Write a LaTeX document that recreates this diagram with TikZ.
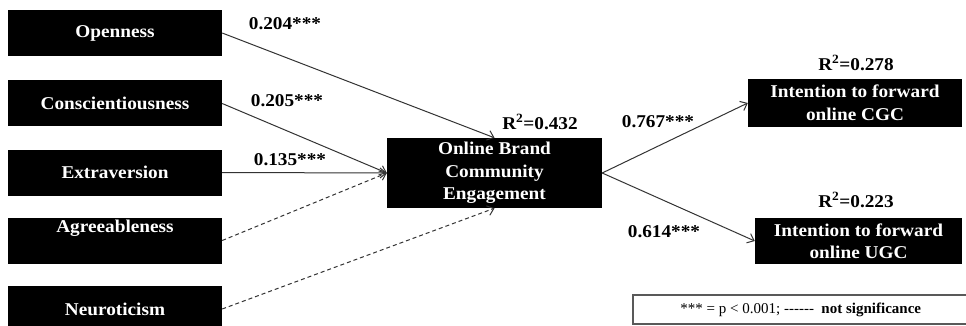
\documentclass[tikz,border=0pt]{standalone}
\usepackage{fontspec}
\setmainfont{Liberation Serif}[FakeStretch=1.07]
\newfontfamily\legendfont{Liberation Serif}
\usetikzlibrary{arrows.meta}

\begin{document}
\begin{tikzpicture}[x=1pt,y=-1pt,every text node part/.style={align=center},
  trait/.style={fill=black,text=white,minimum width=214pt,minimum height=46pt,
    font=\fontsize{18}{22.5}\selectfont\bfseries},
  coef/.style={font=\fontsize{18}{20}\selectfont\bfseries},
  link/.style={draw=black!80,line width=1pt,-{Straight Barb[length=6pt,width=10pt]}},
  nslink/.style={link,dash pattern=on 4pt off 3pt}]
\tikzstyle{every node}+=[inner sep=0pt]
\clip (0,0) rectangle (966,326);
% personality traits
\node [trait] (open) at (115,33) {Openness};
\node [trait] (consc) at (115,103.5) {Conscientiousness};
\node [trait] (extra) at (115,172.5) {Extraversion};
\node [trait] (agree) at (115,240.5) {Agreeableness\\\strut};
\node [trait] (neuro) at (115,309) {Neuroticism};
% engagement and outcomes
\node [trait,minimum width=215pt,minimum height=70pt] (obce) at (494.5,173) {Online Brand\\Community\\Engagement};
\node [trait,minimum height=48pt] (cgc) at (855,103) {Intention to forward\\online CGC};
\node [trait,minimum width=207pt] (ugc) at (858.5,241) {Intention to forward\\online UGC};
% paths
\draw [link] (open.east) -- (obce.north);
\draw [link] (consc.east) -- (obce.west);
\draw [link] (extra.east) -- (obce.west);
\draw [nslink] (agree.east) -- (obce.west);
\draw [nslink] (neuro.east) -- (obce.south);
\draw [link] (obce.east) -- (cgc.west);
\draw [link] (obce.east) -- (ugc.west);
% coefficients
\node [coef] (c1) at (285,24) {0.204***};
\node [coef] (c2) at (287,101) {0.205***};
\node [coef] (c3) at (290,160) {0.135***};
\node [coef] (c4) at (658,122) {0.767***};
\node [coef] (c5) at (664,232) {0.614***};
\node [coef] (r1) at (540,122) {R\textsuperscript{2}=0.432};
\node [coef] (r2) at (856,63) {R\textsuperscript{2}=0.278};
\node [coef] (r3) at (856,200) {R\textsuperscript{2}=0.223};
% legend
\node [draw=black!65,line width=1.5pt,minimum width=336pt,minimum height=29pt,anchor=west,
  font=\legendfont\fontsize{15}{17}\selectfont] (legend) at (632,309.5)
  {*** = p < 0.001; -\kern0pt-\kern0pt-\kern0pt-\kern0pt-\kern0pt-\ \ \textbf{not significance}};
\end{tikzpicture}
\end{document}
